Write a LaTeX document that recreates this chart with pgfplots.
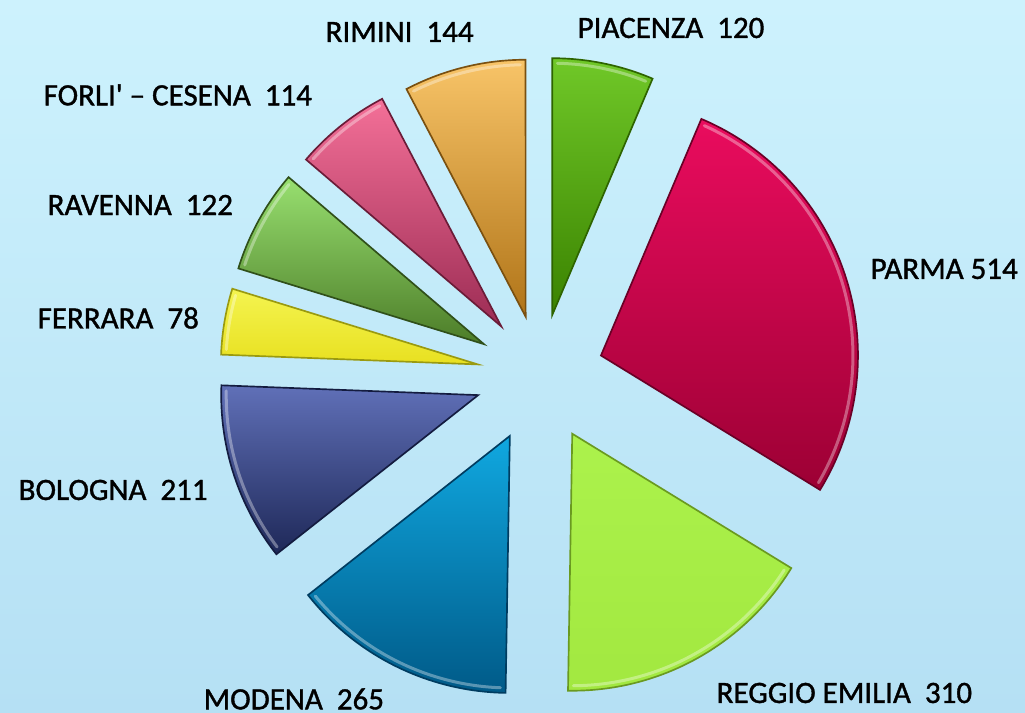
\documentclass[border=0pt]{standalone}
\usepackage{fontspec}
\setmainfont{Carlito}
\newfontfamily\labfont{Carlito}[FakeBold=1.2]
\usepackage{pgfplots}
\usepackage{pgfplotstable}
\pgfplotsset{compat=1.18}

\pgfplotstableread{
value expl
120 61
514 64
310 67
265 68
211 65
78  63
122 64
114 62
144 60
}\piedata

\definecolor{ct0}{HTML}{70C828}\definecolor{cb0}{HTML}{3A8200}\definecolor{cd0}{HTML}{2E6400}
\definecolor{ct1}{HTML}{EA0C5E}\definecolor{cb1}{HTML}{9C0034}\definecolor{cd1}{HTML}{6A0026}
\definecolor{ct2}{HTML}{ACF24C}\definecolor{cb2}{HTML}{A2E840}\definecolor{cd2}{HTML}{6A9A20}
\definecolor{ct3}{HTML}{10A8E0}\definecolor{cb3}{HTML}{005A88}\definecolor{cd3}{HTML}{003C60}
\definecolor{ct4}{HTML}{6070B8}\definecolor{cb4}{HTML}{1E2858}\definecolor{cd4}{HTML}{141C40}
\definecolor{ct5}{HTML}{F4F450}\definecolor{cb5}{HTML}{E8E020}\definecolor{cd5}{HTML}{9A9A10}
\definecolor{ct6}{HTML}{98E070}\definecolor{cb6}{HTML}{4C7C28}\definecolor{cd6}{HTML}{30501A}
\definecolor{ct7}{HTML}{F47098}\definecolor{cb7}{HTML}{9C2C54}\definecolor{cd7}{HTML}{6A1C38}
\definecolor{ct8}{HTML}{F8C468}\definecolor{cb8}{HTML}{B07418}\definecolor{cd8}{HTML}{7A5010}
\definecolor{bgtop}{HTML}{CDF2FD}\definecolor{bgbot}{HTML}{B5E0F4}

\newcommand\cx{540}\newcommand\cy{338}
\def\total{0}
\pgfplotsforeachungrouped \i in {0,...,8}{%
  \pgfplotstablegetelem{\i}{value}\of\piedata
  \pgfmathsetmacro\total{\total+\pgfplotsretval}%
}
\def\curang{90}
\pgfplotsforeachungrouped \i in {0,...,8}{%
  \pgfplotstablegetelem{\i}{value}\of\piedata
  \let\sliceval\pgfplotsretval
  \pgfplotstablegetelem{\i}{expl}\of\piedata
  \let\sliceexp\pgfplotsretval
  \pgfmathsetmacro\endang{\curang-(\sliceval/\total)*360}%
  \pgfmathsetmacro\midang{(\curang+\endang)/2}%
  \pgfmathsetmacro\apx{\cx+\sliceexp*cos(\midang)}%
  \pgfmathsetmacro\apy{\cy+\sliceexp*sin(\midang)}%
  \expandafter\xdef\csname sS\i\endcsname{\curang}%
  \expandafter\xdef\csname sF\i\endcsname{\endang}%
  \pgfmathsetmacro\hs{\curang-1.2}\expandafter\xdef\csname hS\i\endcsname{\hs}%
  \pgfmathsetmacro\hf{\endang+1.2}\expandafter\xdef\csname hF\i\endcsname{\hf}%
  \expandafter\xdef\csname aX\i\endcsname{\apx}%
  \expandafter\xdef\csname aY\i\endcsname{\apy}%
  \global\let\curang\endang
}

\begin{document}
\begin{tikzpicture}
\begin{axis}[hide axis, x=0.3pt, y=0.3pt, xmin=0, xmax=1025, ymin=0, ymax=713,
  clip=false, scale only axis]
\shade[top color=bgtop, bottom color=bgbot] (axis cs:0,0) rectangle (axis cs:1025,713);
\pgfplotsinvokeforeach{0,...,8}{
  \shade[top color=ct#1, bottom color=cb#1, draw=cd#1, line width=0.5pt]
    (axis cs:\csname aX#1\endcsname,\csname aY#1\endcsname)
    -- ++(\csname sS#1\endcsname:77.1pt)
    arc[start angle=\csname sS#1\endcsname, end angle=\csname sF#1\endcsname, radius=77.1pt]
    -- cycle;
  \draw[white, opacity=0.35, line width=0.9pt, line cap=round]
    (axis cs:\csname aX#1\endcsname,\csname aY#1\endcsname)
    ++(\csname hS#1\endcsname:75.6pt)
    arc[start angle=\csname hS#1\endcsname, end angle=\csname hF#1\endcsname, radius=75.6pt];
}
\tikzset{lab/.style={anchor=west, inner sep=0pt, font=\labfont\fontsize{9.3}{11}\selectfont}}
\node[lab] at (axis cs:577,685) {PIACENZA\ \ 120};
\node[lab] at (axis cs:870,444) {PARMA 514};
\node[lab] at (axis cs:716,20) {REGGIO EMILIA\ \ 310};
\node[lab] at (axis cs:203,14) {MODENA\ \ 265};
\node[lab] at (axis cs:18,223) {BOLOGNA\ \ 211};
\node[lab] at (axis cs:37,395) {FERRARA\ \ 78};
\node[lab] at (axis cs:47,508) {RAVENNA\ \ 122};
\node[lab] at (axis cs:43,618) {FORLI\symbol{"27} \textendash{} CESENA\ \ 114};
\node[lab] at (axis cs:325,681) {RIMINI\ \ 144};
\end{axis}
\end{tikzpicture}
\end{document}
